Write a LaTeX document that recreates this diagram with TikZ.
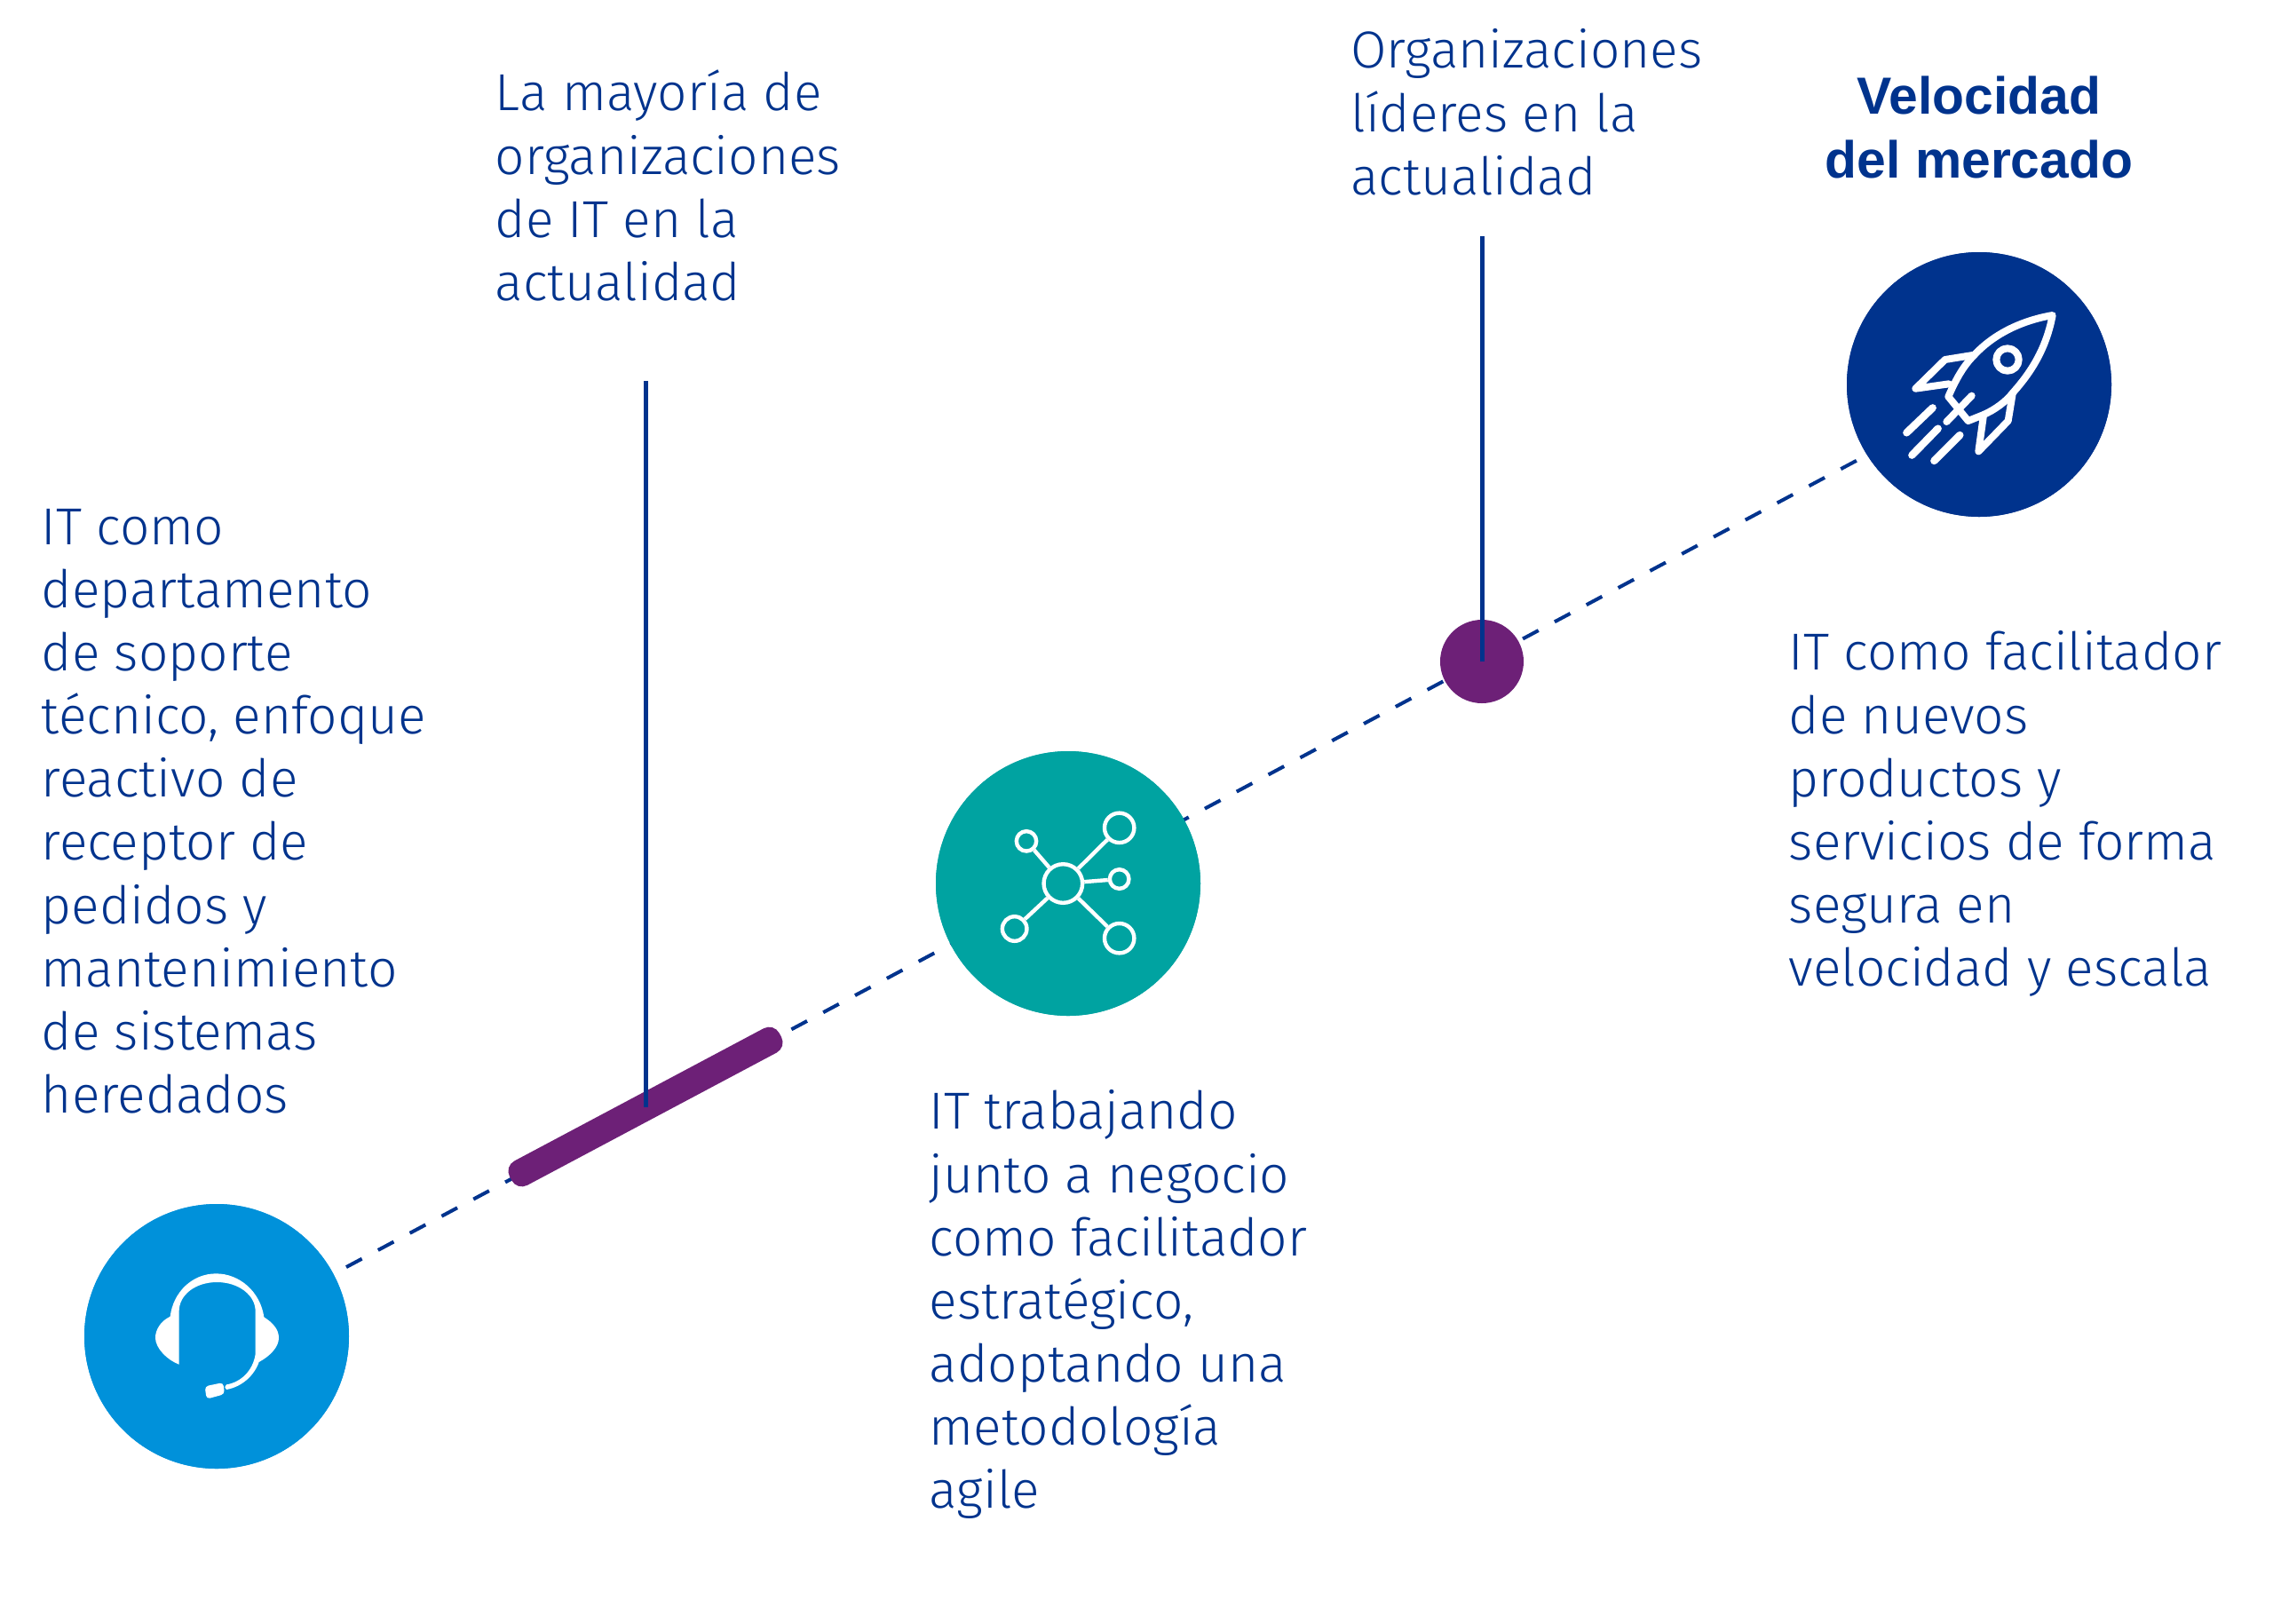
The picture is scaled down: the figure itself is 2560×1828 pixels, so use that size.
\documentclass[tikz,border=0pt]{standalone}
\usepackage{fontspec}
\setmainfont{Fira Sans}[UprightFont=* Light,BoldFont=* Bold]
\newfontfamily\headfont{Liberation Sans Bold}
\definecolor{navy}{HTML}{00338D}
\definecolor{skyb}{HTML}{0091DA}
\definecolor{tealc}{HTML}{00A3A1}
\definecolor{purp}{HTML}{6D2077}
\tikzset{
  disc/.style={circle,fill=#1,draw=none,minimum size=149pt,inner sep=0pt},
  para/.style={anchor=north west,inner sep=0pt,align=left,text=navy,font=\fontsize{29.3}{35.55}\selectfont},
  head/.style={anchor=north,inner sep=0pt,align=center,text=navy,font=\fontsize{29.4}{35.55}\headfont},
  leader/.style={draw=navy,line width=2.5pt},
  dashline/.style={draw=navy,line width=2pt,dash pattern=on 10pt off 10.3pt,dash phase=18.75pt},
  zoomed/.style={x=0.16667pt,y=-0.16667pt},
  hub/.style={circle,draw=white,line width=2.2pt,inner sep=0pt,minimum size=#1},
  rkt/.style={draw=white,line width=4pt,line join=round,line cap=round},
  trail/.style={draw=white,line width=4.2pt,line cap=round},
  barshape/.style={rectangle,fill=purp,draw=none,rounded corners=6.5pt,inner sep=0pt,minimum width=172pt,minimum height=15.5pt},
}
\newcommand{\fl}{\rule{0pt}{30pt}}
\begin{document}
\begin{tikzpicture}[x=0.5pt,y=-0.5pt]
\useasboundingbox (0,0) rectangle (2560,1828);
\node[disc=skyb] (support) at (244,1505) {};
\node[disc=tealc] (agile) at (1203,995) {};
\node[disc=navy] (speed) at (2229,433) {};
\coordinate (speedline) at (2229,445);
\coordinate (majTop) at (727,429);
\coordinate (leadTop) at (1669,266);
% dashed trajectory
\path[dashline] (support.center) -- (speedline);
\node[disc=skyb] at (support) {};
\node[disc=tealc] at (agile) {};
\node[disc=navy] at (speed) {};
% markers
\node[barshape,rotate=28] (majority) at (727,1246.5) {};
\node[circle,fill=purp,inner sep=0pt,minimum size=47pt] (lead) at (1669,745) {};
\coordinate (majEnd) at (727,1247);
\draw[leader] (majTop) -- (majEnd);
\draw[leader] (leadTop) -- (lead.center);
% headset icon
\begin{scope}[shift={(60,1330)},zoomed]
\fill[white] (395,458) .. controls (360,475) and (345,505) .. (345,530)
 .. controls (345,565) and (385,605) .. (425,620) -- (425,440)
 .. controls (425,385) and (480,342) .. (553,342)
 .. controls (625,342) and (683,385) .. (683,440) -- (683,585)
 .. controls (675,640) and (635,680) .. (585,688)
 .. controls (578,692) and (578,702) .. (585,705)
 .. controls (640,695) and (680,655) .. (695,612)
 .. controls (735,590) and (762,560) .. (762,530)
 .. controls (762,500) and (740,478) .. (712,460)
 .. controls (700,375) and (630,313) .. (550,313)
 .. controls (470,313) and (405,375) .. (395,458) -- cycle;
\fill[white,rounded corners=2pt] (512,694) -- (574,681) -- (579,720) -- (518,737) -- cycle;
\end{scope}
% network icon
\begin{scope}[shift={(1030,830)},zoomed]
\node[hub=21.8pt] (nh) at (502,495) {};
\node[hub=11.2pt] (na) at (378,352) {};
\node[hub=16.7pt] (nb) at (692,307) {};
\node[hub=10.8pt] (nc) at (692,480) {};
\node[hub=16.7pt] (nd) at (692,680) {};
\node[hub=13.8pt] (ne) at (338,648) {};
\draw[white,line width=2.2pt] (nh)--(na) (nh)--(nb) (nh)--(nc) (nh)--(nd) (nh)--(ne);
\end{scope}
% rocket icon
\begin{scope}[shift={(2060,270)},zoomed]
\draw[rkt] (755,255) .. controls (640,275) and (550,325) .. (490,390)
 .. controls (450,430) and (425,480) .. (403,530)
 -- (470,612) -- (520,592) .. controls (560,575) and (600,545) .. (620,518)
 .. controls (690,440) and (735,360) .. (755,255) -- cycle;
\draw[rkt] (485,390) -- (392,405) -- (292,503) -- (405,487);
\draw[rkt] (620,520) -- (605,612) -- (505,715) -- (522,592);
\draw[rkt] (482,527) -- (397,615);
\draw[rkt] (603,405) circle (38);
\draw[trail] (350,568) -- (262,652);
\draw[trail] (368,638) -- (280,728);
\draw[trail] (442,660) -- (355,747);
\end{scope}
% texts
\node[para] (t1) at (46.5,553) {\fl IT como\\departamento\\de soporte\\técnico, enfoque\\reactivo de\\receptor de\\pedidos y\\mantenimiento\\de sistemas\\heredados};
\node[para] (t2) at (557.5,64.5) {\fl La mayoría de\\organizaciones\\de IT en la\\actualidad};
\node[para] (t3) at (1521,16.5) {\fl Organizaciones\\líderes en la\\actualidad};
\node[head] (t4) at (2229,68.5) {\fl Velocidad\\del mercado};
\node[para] (t5) at (2014.5,694.5) {\fl IT como facilitador\\de nuevos\\productos y\\servicios de forma\\segura en\\velocidad y escala};
\node[para] (t6) at (1046.5,1211.5) {\fl IT trabajando\\junto a negocio\\como facilitador\\estratégico,\\adoptando una\\metodología\\agile};
\end{tikzpicture}
\end{document}
